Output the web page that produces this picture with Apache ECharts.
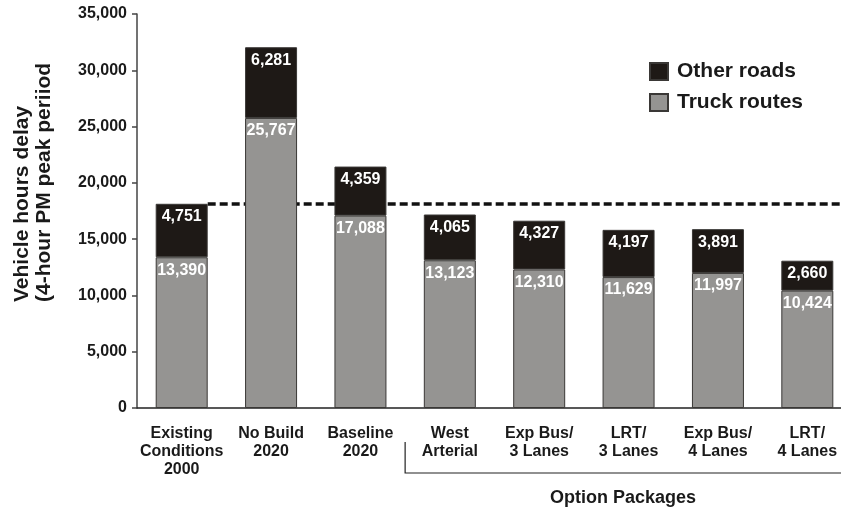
<!DOCTYPE html>
<html>
<head>
<meta charset="utf-8">
<script src="https://cdn.jsdelivr.net/npm/echarts@6/dist/echarts.min.js"></script>
<style>
html,body{margin:0;padding:0;background:#fff;}
#chart{width:841px;height:511px;}
</style>
</head>
<body>
<div id="chart"></div>
<script>
var categories = ['Existing\nConditions\n2000', 'No Build\n2020', 'Baseline\n2020', 'West\nArterial', 'Exp Bus/\n3 Lanes', 'LRT/\n3 Lanes', 'Exp Bus/\n4 Lanes', 'LRT/\n4 Lanes'];
var truckRoutes = [13390, 25767, 17088, 13123, 12310, 11629, 11997, 10424];
var otherRoads = [4751, 6281, 4359, 4065, 4327, 4197, 3891, 2660];
var yTicks = [0, 5000, 10000, 15000, 20000, 25000, 30000, 35000];
var baselineLevel = truckRoutes[0] + otherRoads[0];

var FONT = '"Liberation Sans", Arial, sans-serif';
var TXT = '#1a1a1a';
var BAR_W = 52;
var chart = echarts.init(document.getElementById('chart'), null, {renderer: 'canvas'});

function fmt(v) { return Number(v).toLocaleString('en-US'); }

var option = {
  animation: false,
  backgroundColor: '#ffffff',
  textStyle: {fontFamily: FONT},
  grid: {left: 137, width: 715, top: 14, bottom: 103, containLabel: false, outerBoundsMode: 'none'},
  legend: {
    orient: 'vertical',
    left: 649, top: 61, padding: 0,
    itemWidth: 18, itemHeight: 17, itemGap: 10,
    icon: 'rect',
    data: ['Other roads', 'Truck routes'],
    textStyle: {fontFamily: FONT, fontSize: 21, fontWeight: 'bold', color: TXT, padding: [0, 0, 0, 4]}
  },
  xAxis: {
    type: 'category',
    data: categories,
    axisLine: {lineStyle: {color: '#222', width: 1.5}},
    axisTick: {show: false},
    axisLabel: {
      interval: 0, margin: 17,
      fontFamily: FONT, fontSize: 16, fontWeight: 'bold', color: TXT, lineHeight: 18
    }
  },
  yAxis: {
    type: 'value',
    min: yTicks[0], max: yTicks[yTicks.length - 1], interval: 5000,
    axisLine: {show: true, lineStyle: {color: '#444', width: 1.5}},
    axisTick: {show: true, length: 5, lineStyle: {color: '#444', width: 1.5}},
    splitLine: {show: false},
    axisLabel: {
      margin: 10, fontFamily: FONT, fontSize: 16, fontWeight: 'bold', color: TXT,
      formatter: function (v) { return fmt(v); }
    }
  },
  series: [
    {
      name: 'Truck routes', type: 'bar', stack: 'total', barWidth: BAR_W, z: 3,
      data: truckRoutes,
      itemStyle: {color: '#959492', borderColor: '#3a3836', borderWidth: 1},
      label: {
        show: true, position: 'insideTop', distance: 5,
        fontFamily: FONT, fontSize: 16, fontWeight: 'bold', color: '#ffffff',
        formatter: function (p) { return fmt(p.value); }
      }
    },
    {
      name: 'Other roads', type: 'bar', stack: 'total', barWidth: BAR_W, z: 3,
      data: otherRoads,
      itemStyle: {color: '#1e1916', borderColor: '#3a3836', borderWidth: 1},
      label: {
        show: true, position: 'insideTop', distance: 5,
        fontFamily: FONT, fontSize: 16, fontWeight: 'bold', color: '#ffffff',
        formatter: function (p) { return fmt(p.value); }
      },
      markLine: {
        silent: true, symbol: ['none', 'none'], z: 1,
        label: {show: false},
        lineStyle: {color: '#111', type: [8, 4], width: 3.5},
        data: [[{coord: [0, baselineLevel]}, {coord: [categories.length - 1, baselineLevel], x: '100%'}]]
      }
    }
  ]
};
chart.setOption(option);

// start the reference line at the right edge of the first bar
var c0 = chart.convertToPixel({xAxisIndex: 0}, 0);
var c3 = chart.convertToPixel({xAxisIndex: 0}, 3);
var c4 = chart.convertToPixel({xAxisIndex: 0}, 4);
var band = c4 - c3;
var bx = c3 - band / 2;
var rightEdge = 841;
chart.setOption({
  series: [{}, {
    markLine: {
      data: [[{coord: [0, baselineLevel], x: c0 + BAR_W / 2}, {coord: [categories.length - 1, baselineLevel], x: '100%'}]]
    }
  }],
  graphic: [
    {type: 'polyline', silent: true, shape: {points: [[bx, 442], [bx, 473], [rightEdge, 473]]},
     style: {stroke: '#222', lineWidth: 1.2, fill: null}},
    {type: 'text', silent: true, x: (bx + rightEdge) / 2, y: 498,
     style: {text: 'Option Packages', font: 'bold 18px ' + FONT, fill: TXT, align: 'center', verticalAlign: 'middle'}},
    {type: 'text', silent: true, x: 33, y: 302, rotation: Math.PI / 2,
     style: {text: 'Vehicle hours delay\n(4-hour PM peak periiod', font: 'bold 21px ' + FONT, lineHeight: 22,
             fill: TXT, align: 'left', verticalAlign: 'middle'}}
  ]
});
</script>
</body>
</html>
